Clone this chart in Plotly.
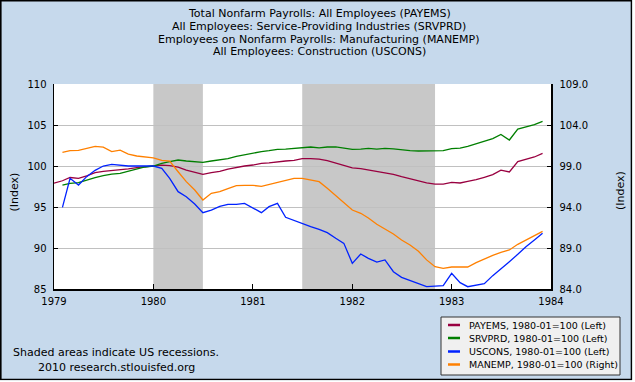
import plotly.graph_objects as go

# ---------------- data ----------------
months = [f"{y}-{m:02d}-01" for y in range(1979, 1984) for m in range(1, 13)]

payems = [97.9, 98.2, 98.6, 98.5, 98.8, 99.2, 99.35, 99.45, 99.5, 99.65, 99.8, 99.9,
          100.0, 100.1, 100.05, 99.85, 99.5, 99.25, 98.98, 99.19, 99.35, 99.63, 99.84, 100.0,
          100.12, 100.33, 100.37, 100.53, 100.61, 100.69, 100.89, 100.89, 100.85, 100.65, 100.33, 100.0,
          99.76, 99.67, 99.51, 99.35, 99.19, 98.98, 98.7, 98.46, 98.25, 97.93, 97.8, 97.8,
          98.01, 97.93, 98.13, 98.33, 98.62, 98.94, 99.5, 99.27, 100.53, 100.77, 101.1, 101.54]

srvprd = [None, 97.68, 97.89, 97.97, 98.29, 98.58, 98.82, 99.02, 99.1, 99.35, 99.63, 99.88,
          100.0, 100.33, 100.53, 100.73, 100.61, 100.49, 100.45, 100.61, 100.73, 100.89, 101.18, 101.38,
          101.54, 101.75, 101.87, 102.03, 102.07, 102.15, 102.32, 102.32, 102.2, 102.32, 102.32, 102.15,
          102.03, 102.07, 102.15, 102.07, 102.15, 102.1, 101.95, 101.87, 101.83, 101.83, 101.79, 101.87,
          102.11, 102.19, 102.4, 102.7, 103.0, 103.35, 103.85, 103.17, 104.5, 104.76, 105.04, 105.45]

uscons = [None, 94.96, 98.5, 97.68, 98.7, 99.47, 100.0, 100.2, 100.08, 100.0, 100.0, 100.04,
          100.0, 99.72, 98.5, 96.87, 96.26, 95.37, 94.31, 94.63, 95.08, 95.33, 95.33, 95.45,
          94.88, 94.31, 95.04, 95.45, 93.74, 93.33, 93.01, 92.6, 92.28, 91.87, 91.18, 90.57,
          88.13, 89.27, 88.74, 88.29, 88.54, 87.11, 86.42, 86.02, 85.61, 85.28, 85.36, 85.4,
          86.91, 85.77, 85.28, 85.45, 85.65, 86.63, 87.52, 88.33, 89.23, 90.16, 90.98, 91.79]

manemp = [None, 100.67, 100.87, 100.9, 101.16, 101.4, 101.3, 100.75, 100.93, 100.46, 100.22, 100.14,
          100.0, 99.69, 99.6, 98.3, 97.09, 96.07, 94.85, 95.67, 95.87, 96.24, 96.6, 96.64,
          96.64, 96.52, 96.76, 97.01, 97.29, 97.5, 97.5, 97.29, 97.09, 96.28, 95.42, 94.53,
          93.63, 93.23, 92.66, 91.89, 91.36, 90.71, 89.98, 89.37, 88.6, 87.55, 86.72, 86.52,
          86.68, 86.68, 86.68, 87.21, 87.66, 88.11, 88.47, 88.76, 89.45, 89.98, 90.59, 91.03]

recessions = [("1980-01-01", "1980-07-01"), ("1981-07-01", "1982-11-01")]

title_lines = ["Total Nonfarm Payrolls: All Employees (PAYEMS)",
               "All Employees: Service-Providing Industries (SRVPRD)",
               "Employees on Nonfarm Payrolls: Manufacturing (MANEMP)",
               "All Employees: Construction (USCONS)"]

legend_labels = ["PAYEMS, 1980-01=100 (Left)", "SRVPRD, 1980-01=100 (Left)",
                 "USCONS, 1980-01=100 (Left)", "MANEMP, 1980-01=100 (Right)"]
colors = ["#990040", "#007F00", "#0022FF", "#FF8000"]

x_ticks = ["1979-01-01", "1980-01-01", "1981-01-01", "1982-01-01", "1983-01-01", "1984-01-01"]
x_ticktext = ["1979", "1980", "1981", "1982", "1983", "1984"]
left_ticks = [85, 90, 95, 100, 105, 110]
right_ticks = [84, 89, 94, 99, 104, 109]

# ---------------- layout geometry ----------------
W, H = 635, 382
L, R, T, B = 54, 551, 84, 289
FONT = "DejaVu Sans"


def px(x):
    return (x - L) / (R - L)


def py(y):
    return (B - y) / (B - T)


fig = go.Figure()
series = [payems, srvprd, uscons, manemp]
axes = ["y", "y", "y", "y2"]
for vals, col, ax, lab in zip(series, colors, axes, legend_labels):
    fig.add_trace(go.Scatter(x=months, y=vals, mode="lines", yaxis=ax, name=lab,
                             line=dict(color=col, width=1.3), connectgaps=False,
                             showlegend=False))

shapes = []
# outer border
shapes.append(dict(type="rect", xref="paper", yref="paper",
                   x0=px(0.8), x1=px(631.5), y0=py(379.5), y1=py(0.8),
                   line=dict(color="#000000", width=1.6), layer="below"))
# white margin strips outside border
shapes.append(dict(type="rect", xref="paper", yref="paper",
                   x0=px(632.3), x1=px(W + 2), y0=py(H + 2), y1=py(-2),
                   line=dict(width=0), fillcolor="white", layer="below"))
shapes.append(dict(type="rect", xref="paper", yref="paper",
                   x0=px(-2), x1=px(W + 2), y0=py(H + 2), y1=py(380.3),
                   line=dict(width=0), fillcolor="white", layer="below"))
# recessions
for a, b in recessions:
    shapes.append(dict(type="rect", xref="x", yref="paper", x0=a, x1=b, y0=0, y1=1,
                       fillcolor="#C8C8C8", line=dict(width=0), layer="between"))
# legend box
shapes.append(dict(type="rect", xref="paper", yref="paper",
                   x0=px(441), x1=px(620), y0=py(375), y1=py(317),
                   fillcolor="#F0F0F0", line=dict(color="#333333", width=1), layer="above"))
leg_y = [325, 338, 351.5, 364.5]
annotations = []
for yy, col, lab in zip(leg_y, colors, legend_labels):
    shapes.append(dict(type="line", xref="paper", yref="paper",
                       x0=px(448), x1=px(460), y0=py(yy), y1=py(yy),
                       line=dict(color=col, width=2.5), layer="above"))
    annotations.append(dict(xref="paper", yref="paper", x=px(467), y=py(yy),
                            xanchor="left", yanchor="middle", showarrow=False,
                            text=lab, font=dict(family=FONT, size=9.5, color="#000000")))

# title lines
for yy, t in zip([13.5, 26.3, 39, 51.7], title_lines):
    annotations.append(dict(xref="paper", yref="paper", x=px(319), y=py(yy),
                            xanchor="center", yanchor="middle", showarrow=False,
                            text=t, font=dict(family=FONT, size=11, color="#000000")))
# bottom note
for yy, t in zip([352.5, 367.5], ["Shaded areas indicate US recessions.",
                                  "2010 research.stlouisfed.org"]):
    annotations.append(dict(xref="paper", yref="paper", x=px(116), y=py(yy),
                            xanchor="center", yanchor="middle", showarrow=False,
                            text=t, font=dict(family=FONT, size=11, color="#000000")))
# axis titles
annotations.append(dict(xref="paper", yref="paper", x=px(13.5), y=py(192),
                        xanchor="center", yanchor="middle", showarrow=False, textangle=-90,
                        text="(Index)", font=dict(family=FONT, size=11, color="#000000")))
annotations.append(dict(xref="paper", yref="paper", x=px(620), y=py(191),
                        xanchor="center", yanchor="middle", showarrow=False, textangle=-90,
                        text="(Index)", font=dict(family=FONT, size=11, color="#000000")))

tickfont = dict(family=FONT, size=10, color="#000000")
fig.update_layout(
    width=W, height=H,
    margin=dict(l=L, r=W - R, t=T, b=H - B, pad=0),
    paper_bgcolor="#C6D9EC",
    plot_bgcolor="#FFFFFF",
    shapes=shapes,
    annotations=annotations,
    showlegend=False,
    hovermode=False,
    xaxis=dict(type="date", range=["1979-01-01", "1984-01-01"],
               tickvals=x_ticks, ticktext=x_ticktext, tickfont=tickfont,
               ticks="inside", ticklen=5, tickcolor="#000000", tickwidth=1,
               showgrid=False, zeroline=False, showline=True, linecolor="#000000",
               linewidth=1.5, fixedrange=True, ticklabelstandoff=2),
    yaxis=dict(range=[85, 110], tickvals=left_ticks, tickfont=tickfont,
               ticks="inside", ticklen=4, tickcolor="#000000",
               showgrid=True, gridcolor="#C0C0C0", gridwidth=1, zeroline=False,
               showline=True, linecolor="#000000", linewidth=1.5, ticklabelstandoff=4),
    yaxis2=dict(range=[84, 109], tickvals=right_ticks, tickformat=".1f", tickfont=tickfont,
                overlaying="y", side="right", ticks="inside", ticklen=4, tickcolor="#000000",
                showgrid=False, zeroline=False, showline=True, linecolor="#000000",
                linewidth=1.5, ticklabelstandoff=5),
)

fig.write_html("out.html", config={"displayModeBar": False, "staticPlot": True},
               post_script="document.body.style.margin='0px';document.body.style.overflow='hidden';")
